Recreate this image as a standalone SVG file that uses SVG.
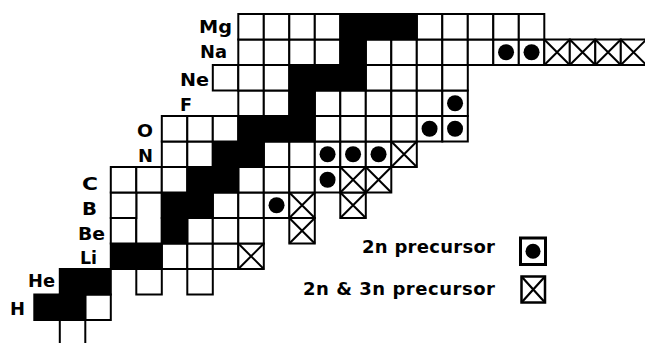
<svg xmlns="http://www.w3.org/2000/svg" xmlns:xlink="http://www.w3.org/1999/xlink" width="645" height="343" viewBox="0 0 645 343">
<style>
.lab{font-family:"DejaVu Sans","Liberation Sans",sans-serif;font-weight:bold;font-size:18px;fill:#000}
.leg{font-family:"DejaVu Sans","Liberation Sans",sans-serif;font-weight:bold;font-size:18px;fill:#000}
</style>
<defs>
<rect id="w" width="25.5" height="25.5" fill="#fff" stroke="#000" stroke-width="2"/>
<rect id="k" width="25.5" height="25.5" fill="#000" stroke="#000" stroke-width="2"/>
<g id="d"><use xlink:href="#w"/><circle cx="12.75" cy="12.75" r="8" fill="#000"/></g>
<g id="x"><use xlink:href="#w"/><path d="M0,0L25.5,25.5M25.5,0L0,25.5" stroke="#000" stroke-width="2" fill="none"/></g>
</defs>
<rect width="645" height="343" fill="#fff"/>
<g id="cells">
<g id="row-n"><use xlink:href="#w" x="59.8" y="320"/></g>
<g id="row-H"><use xlink:href="#w" x="85.3" y="294.5"/><use xlink:href="#k" x="34.3" y="294.5"/><use xlink:href="#k" x="59.8" y="294.5"/></g>
<g id="row-He"><use xlink:href="#w" x="136.3" y="269"/><use xlink:href="#w" x="187.3" y="269"/><use xlink:href="#k" x="59.8" y="269"/><use xlink:href="#k" x="85.3" y="269"/></g>
<g id="row-Li"><use xlink:href="#w" x="161.8" y="243.5"/><use xlink:href="#w" x="187.3" y="243.5"/><use xlink:href="#w" x="212.8" y="243.5"/><use xlink:href="#x" x="238.3" y="243.5"/><use xlink:href="#k" x="110.8" y="243.5"/><use xlink:href="#k" x="136.3" y="243.5"/></g>
<g id="row-Be"><use xlink:href="#w" x="110.8" y="218"/><rect x="136.3" y="192.5" width="25.5" height="51" fill="#fff" stroke="#000" stroke-width="2"/><use xlink:href="#w" x="187.3" y="218"/><use xlink:href="#w" x="212.8" y="218"/><use xlink:href="#w" x="238.3" y="218"/><use xlink:href="#x" x="289.3" y="218"/><use xlink:href="#k" x="161.8" y="218"/></g>
<g id="row-B"><use xlink:href="#w" x="110.8" y="192.5"/><use xlink:href="#w" x="212.8" y="192.5"/><use xlink:href="#w" x="238.3" y="192.5"/><use xlink:href="#d" x="263.8" y="192.5"/><use xlink:href="#x" x="289.3" y="192.5"/><use xlink:href="#x" x="340.3" y="192.5"/><use xlink:href="#k" x="161.8" y="192.5"/><use xlink:href="#k" x="187.3" y="192.5"/></g>
<g id="row-C"><use xlink:href="#w" x="110.8" y="167"/><use xlink:href="#w" x="136.3" y="167"/><use xlink:href="#w" x="161.8" y="167"/><use xlink:href="#w" x="238.3" y="167"/><use xlink:href="#w" x="263.8" y="167"/><use xlink:href="#w" x="289.3" y="167"/><use xlink:href="#d" x="314.8" y="167"/><use xlink:href="#x" x="340.3" y="167"/><use xlink:href="#x" x="365.8" y="167"/><use xlink:href="#k" x="187.3" y="167"/><use xlink:href="#k" x="212.8" y="167"/></g>
<g id="row-N"><use xlink:href="#w" x="161.8" y="141.5"/><use xlink:href="#w" x="187.3" y="141.5"/><use xlink:href="#w" x="263.8" y="141.5"/><use xlink:href="#w" x="289.3" y="141.5"/><use xlink:href="#d" x="314.8" y="141.5"/><use xlink:href="#d" x="340.3" y="141.5"/><use xlink:href="#d" x="365.8" y="141.5"/><use xlink:href="#x" x="391.3" y="141.5"/><use xlink:href="#k" x="212.8" y="141.5"/><use xlink:href="#k" x="238.3" y="141.5"/></g>
<g id="row-O"><use xlink:href="#w" x="161.8" y="116"/><use xlink:href="#w" x="187.3" y="116"/><use xlink:href="#w" x="212.8" y="116"/><use xlink:href="#w" x="314.8" y="116"/><use xlink:href="#w" x="340.3" y="116"/><use xlink:href="#w" x="365.8" y="116"/><use xlink:href="#w" x="391.3" y="116"/><use xlink:href="#d" x="416.8" y="116"/><use xlink:href="#d" x="442.3" y="116"/><use xlink:href="#k" x="238.3" y="116"/><use xlink:href="#k" x="263.8" y="116"/><use xlink:href="#k" x="289.3" y="116"/></g>
<g id="row-F"><use xlink:href="#w" x="238.3" y="90.5"/><use xlink:href="#w" x="263.8" y="90.5"/><use xlink:href="#w" x="314.8" y="90.5"/><use xlink:href="#w" x="340.3" y="90.5"/><use xlink:href="#w" x="365.8" y="90.5"/><use xlink:href="#w" x="391.3" y="90.5"/><use xlink:href="#w" x="416.8" y="90.5"/><use xlink:href="#d" x="442.3" y="90.5"/><use xlink:href="#k" x="289.3" y="90.5"/></g>
<g id="row-Ne"><use xlink:href="#w" x="212.8" y="65"/><use xlink:href="#w" x="238.3" y="65"/><use xlink:href="#w" x="263.8" y="65"/><use xlink:href="#w" x="365.8" y="65"/><use xlink:href="#w" x="391.3" y="65"/><use xlink:href="#w" x="416.8" y="65"/><use xlink:href="#w" x="442.3" y="65"/><use xlink:href="#k" x="289.3" y="65"/><use xlink:href="#k" x="314.8" y="65"/><use xlink:href="#k" x="340.3" y="65"/></g>
<g id="row-Na"><use xlink:href="#w" x="238.3" y="39.5"/><use xlink:href="#w" x="263.8" y="39.5"/><use xlink:href="#w" x="289.3" y="39.5"/><use xlink:href="#w" x="314.8" y="39.5"/><use xlink:href="#w" x="365.8" y="39.5"/><use xlink:href="#w" x="391.3" y="39.5"/><use xlink:href="#w" x="416.8" y="39.5"/><use xlink:href="#w" x="442.3" y="39.5"/><use xlink:href="#w" x="467.8" y="39.5"/><use xlink:href="#d" x="493.3" y="39.5"/><use xlink:href="#d" x="518.8" y="39.5"/><use xlink:href="#x" x="544.3" y="39.5"/><use xlink:href="#x" x="569.8" y="39.5"/><use xlink:href="#x" x="595.3" y="39.5"/><use xlink:href="#x" x="620.8" y="39.5"/><use xlink:href="#k" x="340.3" y="39.5"/></g>
<g id="row-Mg"><use xlink:href="#w" x="238.3" y="14"/><use xlink:href="#w" x="263.8" y="14"/><use xlink:href="#w" x="289.3" y="14"/><use xlink:href="#w" x="314.8" y="14"/><use xlink:href="#w" x="416.8" y="14"/><use xlink:href="#w" x="442.3" y="14"/><use xlink:href="#w" x="467.8" y="14"/><use xlink:href="#w" x="493.3" y="14"/><use xlink:href="#w" x="518.8" y="14"/><use xlink:href="#k" x="340.3" y="14"/><use xlink:href="#k" x="365.8" y="14"/><use xlink:href="#k" x="391.3" y="14"/></g>
</g>
<g id="labels">
<text class="lab" x="199" y="33" textLength="33" lengthAdjust="spacingAndGlyphs">Mg</text>
<text class="lab" x="200" y="58" textLength="27" lengthAdjust="spacingAndGlyphs">Na</text>
<text class="lab" x="180" y="86" textLength="29" lengthAdjust="spacingAndGlyphs">Ne</text>
<text class="lab" x="180" y="111" textLength="12" lengthAdjust="spacingAndGlyphs">F</text>
<text class="lab" x="137" y="137" textLength="16" lengthAdjust="spacingAndGlyphs">O</text>
<text class="lab" x="138" y="162" textLength="15" lengthAdjust="spacingAndGlyphs">N</text>
<text class="lab" x="82" y="190" textLength="16" lengthAdjust="spacingAndGlyphs">C</text>
<text class="lab" x="82" y="215" textLength="15" lengthAdjust="spacingAndGlyphs">B</text>
<text class="lab" x="78" y="240" textLength="27" lengthAdjust="spacingAndGlyphs">Be</text>
<text class="lab" x="80" y="264" textLength="17" lengthAdjust="spacingAndGlyphs">Li</text>
<text class="lab" x="28" y="287" textLength="27" lengthAdjust="spacingAndGlyphs">He</text>
<text class="lab" x="10" y="315" textLength="15" lengthAdjust="spacingAndGlyphs">H</text>
</g>
<g id="legend">
<text class="leg" x="362" y="253" textLength="133">2n precursor</text>
<rect x="520.5" y="238" width="25" height="26.5" fill="#fff" stroke="#000" stroke-width="3"/>
<circle cx="533" cy="251.3" r="7.5" fill="#000"/>
<text class="leg" x="303" y="295" textLength="192">2n &amp; 3n precursor</text>
<rect x="521.5" y="276.5" width="23.5" height="26" fill="#fff" stroke="#000" stroke-width="2.5"/>
<path d="M521.5,276.5L545,302.5M545,276.5L521.5,302.5" stroke="#000" stroke-width="2.2" fill="none"/>
</g>
</svg>
